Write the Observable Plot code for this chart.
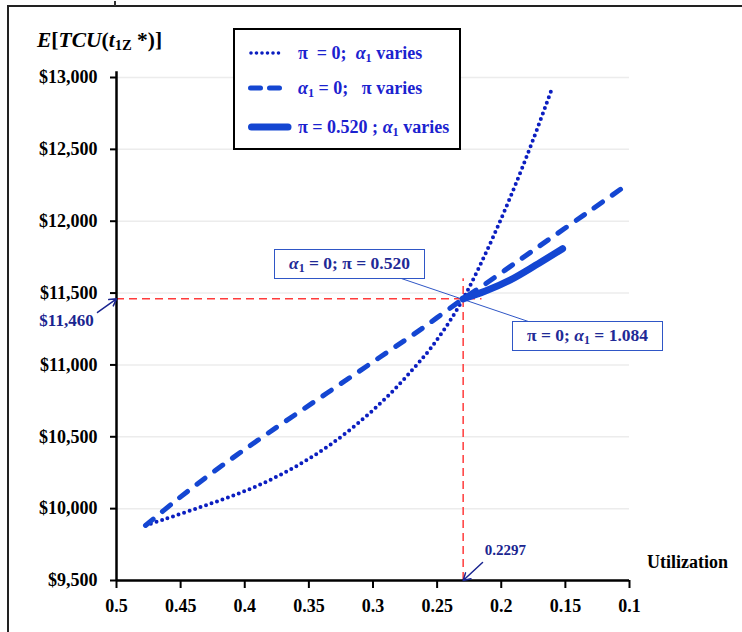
<!DOCTYPE html>
<html>
<head>
<meta charset="utf-8">
<script src="https://cdn.jsdelivr.net/npm/d3@7"></script>
<script src="https://cdn.jsdelivr.net/npm/@observablehq/plot@0.6"></script>
<style>
  body { margin: 0; background: #fff; }
  #wrap { position: relative; width: 742px; height: 632px; overflow: hidden;
          font-family: "Liberation Serif", "Times New Roman", serif; font-weight: bold; }
  #wrap > svg { position: absolute; left: 0; top: 0; }
  .frame-l { position: absolute; left: 7px; top: 5px; width: 2px; height: 640px; background: #222; }
  .frame-t { position: absolute; left: 7px; top: 5px; width: 740px; height: 2px; background: #222; }
  .stub { position: absolute; left: 114px; top: 1px; width: 2px; height: 5px; background: #333; }
  #title { position: absolute; left: 37px; top: 30px; font-size: 21.5px; line-height: 20px;
           white-space: nowrap; color: #000; }
  #title sub { font-style: normal; }
  #legend { position: absolute; left: 233px; top: 28px; width: 224px; height: 118px;
            border: 2px solid #000; background: #fff; }
  .row { position: absolute; left: 0; height: 16px; width: 220px;
         font-size: 18px; color: #1b22cf; white-space: nowrap; }
  .row svg { position: absolute; left: 13px; top: -2px; }
  .row span { position: absolute; left: 63px; top: -3px; line-height: 22px; }
  .note { position: absolute; box-sizing: border-box; width: 151px; height: 30px;
          border: 1.5px solid #2f56c6; background: #fff; text-align: center;
          font-size: 17.5px; line-height: 27px; color: #1f2a96; white-space: nowrap; }
  sub { font-size: 0.68em; vertical-align: -0.22em; line-height: 0; }
</style>
</head>
<body>
<div id="wrap">
  <div class="frame-l"></div>
  <div class="frame-t"></div>
  <div class="stub"></div>
</div>
<script>
// Expected total cost per unit time against utilization, three parameter sweeps.
const xTicks = [0.5, 0.45, 0.4, 0.35, 0.3, 0.25, 0.2, 0.15, 0.1];
const yTicks = [9500, 10000, 10500, 11000, 11500, 12000, 12500, 13000];

// π = 0, α1 varies
const dottedUtil = [0.4774, 0.4634, 0.4368, 0.4111, 0.3854, 0.3589, 0.3331, 0.3074, 0.2864, 0.2684, 0.2552, 0.2419, 0.2297, 0.2185, 0.2068, 0.1951, 0.1834, 0.1717, 0.1600];
const dottedCost = [9883, 9924, 10004, 10084, 10178, 10300, 10446, 10627, 10801, 10975, 11114, 11281, 11460, 11657, 11881, 12121, 12377, 12649, 12935];

// α1 = 0, π varies
const dashedUtil = [0.4774, 0.4540, 0.4306, 0.4072, 0.3838, 0.3565, 0.3253, 0.2941, 0.2630, 0.2297, 0.2138, 0.1850, 0.1616, 0.1327, 0.1070];
const dashedCost = [9883, 10054, 10215, 10367, 10513, 10679, 10868, 11057, 11246, 11460, 11555, 11735, 11881, 12061, 12222];

// π = 0.520, α1 varies
const solidUtil = [0.2297, 0.2123, 0.1928, 0.1733, 0.1522];
const solidCost = [11460, 11514, 11592, 11693, 11809];

// crossing point of the three sweeps
const crossUtil = 0.2297;
const crossCost = 11460;

const legendLabels = [
  "π&nbsp; = 0;&nbsp; <i>α</i><sub>1</sub> varies",
  "<i>α</i><sub>1</sub> = 0;&nbsp;&nbsp; π varies",
  "π = 0.520 ; <i>α</i><sub>1</sub> varies"
];
const noteLabels = [
  "<i>α</i><sub>1</sub> = 0; π = 0.520",
  "π = 0; <i>α</i><sub>1</sub> = 1.084"
];

const dotColor = "#0b1ec0";
const lineColor = "#1446d2";
const red = "#ff3b3b";
const navy = "#1a2590";

const toRows = (us, cs) => us.map((u, i) => ({u, c: cs[i]}));
const dotted = toRows(dottedUtil, dottedCost);
const dashed = toRows(dashedUtil, dashedCost);
const solid = toRows(solidUtil, solidCost);

const fmtX = v => String(+v.toFixed(2));

const chart = Plot.plot({
  width: 742,
  height: 632,
  marginLeft: 116,
  marginRight: 113,
  marginTop: 77,
  marginBottom: 52,
  x: {domain: [0.5, 0.1]},
  y: {domain: [9500, 13000]},
  style: {
    fontFamily: "'Liberation Serif', 'Times New Roman', serif",
    fontWeight: "bold",
    fontSize: "18px",
    color: "#000",
    background: "transparent",
    overflow: "visible"
  },
  marks: [
    Plot.gridY({ticks: yTicks, stroke: "#ececec", strokeOpacity: 1, strokeWidth: 1.5}),
    // reference lines through the crossing point
    Plot.ruleY([crossCost], {x1: 0.5, x2: 0.215, stroke: red, strokeWidth: 1.5, strokeDasharray: "8 5"}),
    Plot.ruleX([crossUtil], {y1: 9500, y2: 11600, stroke: red, strokeWidth: 1.5, strokeDasharray: "8 5"}),
    // leader line joining the two callouts
    Plot.link([{}], {x1: 0.2801, y1: 11608, x2: 0.1788, y2: 11302, stroke: "#2f56c6", strokeWidth: 1}),
    Plot.line(dotted, {x: "u", y: "c", curve: "catmull-rom", stroke: dotColor, strokeWidth: 4,
      strokeDasharray: "0 5.8", strokeLinecap: "round"}),
    Plot.line(dashed, {x: "u", y: "c", curve: "catmull-rom", stroke: lineColor, strokeWidth: 5,
      strokeDasharray: "10 12", strokeLinecap: "round"}),
    Plot.line(solid, {x: "u", y: "c", curve: "catmull-rom", stroke: lineColor, strokeWidth: 7,
      strokeLinecap: "round"}),
    // axes
    Plot.axisY({ticks: yTicks, tickFormat: d3.format("$,.0f"), tickSize: 6, tickPadding: 13,
      strokeWidth: 2, label: null, fontSize: 18, fontWeight: "bold"}),
    Plot.axisX({ticks: xTicks, tickFormat: fmtX, tickSize: 8, tickPadding: 11,
      strokeWidth: 2, label: null, fontSize: 18, fontWeight: "bold"}),
    Plot.ruleX([0.5], {y1: 9500, y2: 13040, strokeWidth: 2.5}),
    Plot.ruleY([9500], {x1: 0.5, x2: 0.1, strokeWidth: 2.5}),
    Plot.text(["Utilization"], {x: 0.0548, y: 9625, fontSize: 18, fontWeight: "bold", fill: "#000"}),
    // value callouts on the axes
    Plot.arrow([{}], {x1: 0.5148, y1: 11365, x2: 0.5, y2: crossCost, stroke: navy, strokeWidth: 1.5, headLength: 8}),
    Plot.text([crossCost], {x: 0.539, y: 11309, text: d => d3.format("$,")(d), fill: navy, fontSize: 17, fontWeight: "bold"}),
    Plot.arrow([{}], {x1: 0.2146, y1: 9625, x2: crossUtil, y2: 9500, stroke: navy, strokeWidth: 1.5, headLength: 8}),
    Plot.text([crossUtil], {x: 0.1967, y: 9709, text: d => String(d), fill: navy, fontSize: 15, fontWeight: "bold"})
  ]
});

const wrap = document.getElementById("wrap");
wrap.insertBefore(chart, wrap.firstChild);

const sx = chart.scale("x"), sy = chart.scale("y");

// title
const title = document.createElement("div");
title.id = "title";
title.innerHTML = "<i>E</i>[<i>TCU</i>(<i>t</i><sub>1Z</sub> *)]";
wrap.appendChild(title);

// legend
const samples = [
  `<svg width="46" height="20"><line x1="3" y1="10" x2="33" y2="10" stroke="${dotColor}" stroke-width="3.6" stroke-dasharray="0 5.5" stroke-linecap="round"/></svg>`,
  `<svg width="46" height="20"><line x1="2.5" y1="10" x2="31.5" y2="10" stroke="${lineColor}" stroke-width="5" stroke-dasharray="10 9" stroke-linecap="round"/></svg>`,
  `<svg width="46" height="20"><line x1="3.5" y1="10" x2="40" y2="10" stroke="${lineColor}" stroke-width="7" stroke-linecap="round"/></svg>`
];
const rowTops = [15, 50, 89];
const legend = document.createElement("div");
legend.id = "legend";
legendLabels.forEach((lab, i) => {
  const r = document.createElement("div");
  r.className = "row";
  r.style.top = rowTops[i] + "px";
  r.innerHTML = samples[i] + `<span>${lab}</span>`;
  legend.appendChild(r);
});
wrap.appendChild(legend);

// callout boxes placed in data coordinates
const notePos = [[0.3768, 11803], [0.1912, 11302]];
noteLabels.forEach((lab, i) => {
  const n = document.createElement("div");
  n.className = "note";
  n.style.left = sx.apply(notePos[i][0]) + "px";
  n.style.top = sy.apply(notePos[i][1]) + "px";
  n.innerHTML = lab;
  wrap.appendChild(n);
});
</script>
</body>
</html>
